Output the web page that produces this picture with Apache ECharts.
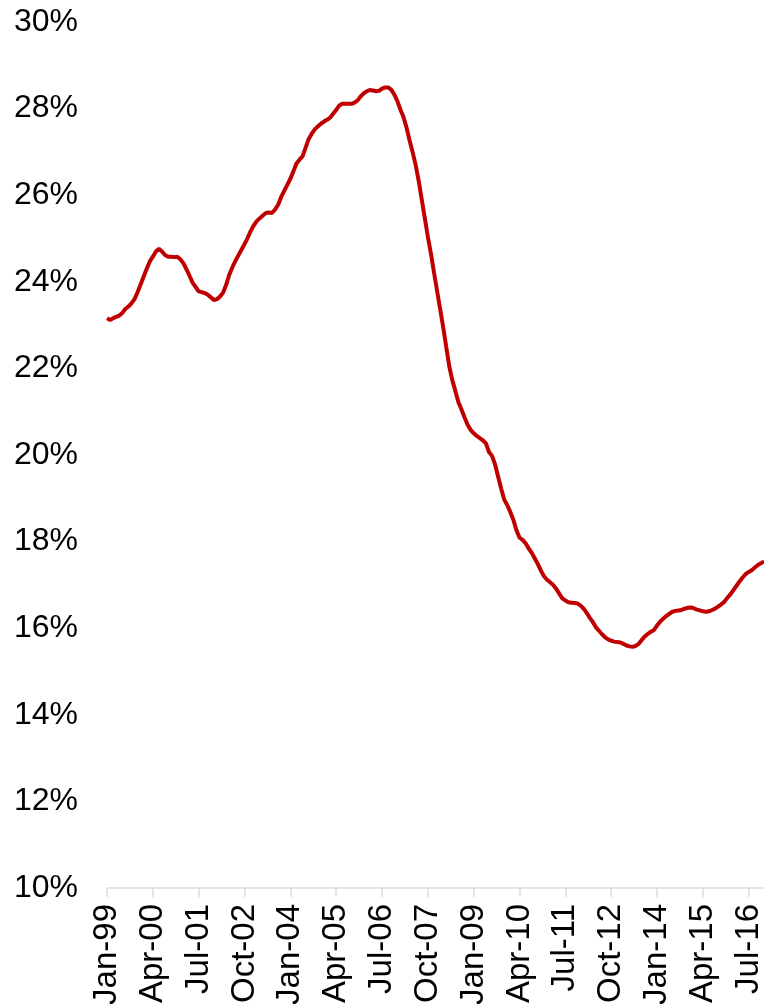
<!DOCTYPE html>
<html>
<head>
<meta charset="utf-8">
<script src="https://cdn.jsdelivr.net/npm/echarts@6/dist/echarts.min.js"></script>
<style>
  html, body { margin: 0; padding: 0; background: #fff; }
  #chart { width: 764px; height: 1004px; }
</style>
</head>
<body>
<div id="chart"></div>
<script>
  // monthly share, Jan-99 .. Dec-16 (percent)
  var shareValues = [
    23.16, 23.12, 23.16, 23.19, 23.22, 23.28, 23.37, 23.43, 23.50, 23.60, 23.76, 23.94,
    24.12, 24.30, 24.47, 24.58, 24.70, 24.76, 24.70, 24.62, 24.58, 24.58, 24.57, 24.58,
    24.52, 24.43, 24.29, 24.14, 23.98, 23.88, 23.78, 23.76, 23.74, 23.70, 23.64, 23.58,
    23.60, 23.66, 23.75, 23.93, 24.16, 24.33, 24.48, 24.61, 24.74, 24.87, 25.01, 25.17,
    25.30, 25.40, 25.47, 25.53, 25.59, 25.60, 25.59, 25.67, 25.78, 25.96, 26.10, 26.24,
    26.38, 26.55, 26.73, 26.82, 26.90, 27.10, 27.30, 27.42, 27.52, 27.59, 27.65, 27.70,
    27.74, 27.79, 27.88, 27.97, 28.07, 28.11, 28.11, 28.11, 28.11, 28.14, 28.19, 28.28,
    28.35, 28.40, 28.43, 28.42, 28.40, 28.41, 28.46, 28.49, 28.49, 28.44, 28.33, 28.18,
    27.98, 27.81, 27.57, 27.27, 27.00, 26.70, 26.33, 25.90, 25.47, 25.04, 24.65, 24.22,
    23.80, 23.38, 22.96, 22.50, 22.05, 21.73, 21.48, 21.22, 21.05, 20.87, 20.70, 20.58,
    20.50, 20.44, 20.39, 20.34, 20.27, 20.07, 19.98, 19.78, 19.50, 19.22, 18.97, 18.84,
    18.68, 18.50, 18.26, 18.09, 18.04, 17.96, 17.84, 17.74, 17.61, 17.48, 17.33, 17.20,
    17.12, 17.06, 17.00, 16.91, 16.80, 16.69, 16.64, 16.60, 16.59, 16.58, 16.57, 16.52,
    16.45, 16.35, 16.24, 16.14, 16.02, 15.94, 15.86, 15.79, 15.74, 15.71, 15.69, 15.68,
    15.67, 15.64, 15.60, 15.58, 15.57, 15.59, 15.64, 15.73, 15.81, 15.87, 15.92, 15.96,
    16.06, 16.15, 16.22, 16.28, 16.33, 16.38, 16.40, 16.41, 16.42, 16.45, 16.47, 16.48,
    16.46, 16.43, 16.41, 16.39, 16.38, 16.39, 16.42, 16.45, 16.50, 16.55, 16.61, 16.70,
    16.78, 16.88, 16.98, 17.08, 17.17, 17.25, 17.30, 17.34, 17.40, 17.46, 17.50, 17.54
  ]
  var monthNames = ['Jan', 'Feb', 'Mar', 'Apr', 'May', 'Jun', 'Jul', 'Aug', 'Sep', 'Oct', 'Nov', 'Dec']
  var startYear = 1999

  var months = []
  for (var i = 0; i < shareValues.length; i++) {
    var y = startYear + Math.floor(i / 12)
    months.push(monthNames[i % 12] + '-' + String(y % 100).padStart(2, '0'))
  }

  var font = '"Liberation Sans", Arial, sans-serif'
  var myChart = echarts.init(document.getElementById('chart'), null, { renderer: 'canvas' })
  myChart.setOption({
    animation: false,
    grid: {
      left: 107,
      right: 0,
      top: 22,
      bottom: 116,
      outerBoundsMode: 'none'
    },
    xAxis: {
      type: 'category',
      data: months,
      boundaryGap: false,
      axisLine: {
        lineStyle: { color: '#e0dcd8', width: 1.5 }
      },
      axisTick: {
        interval: 14,
        length: 9,
        lineStyle: { color: '#e0dcd8', width: 1.5 }
      },
      axisLabel: {
        interval: 14,
        rotate: 90,
        margin: 16,
        color: '#000',
        fontSize: 33,
        fontFamily: font
      },
      splitLine: { show: false }
    },
    yAxis: {
      type: 'value',
      min: 10,
      max: 30,
      interval: 2,
      axisLine: { show: false },
      axisTick: { show: false },
      splitLine: { show: false },
      axisLabel: {
        formatter: '{value}%',
        margin: 29,
        color: '#000',
        fontSize: 32,
        fontFamily: font
      }
    },
    series: [{
      type: 'line',
      data: shareValues,
      showSymbol: false,
      smooth: false,
      lineStyle: {
        color: '#c00000',
        width: 4
      }
    }]
  })
</script>
</body>
</html>
